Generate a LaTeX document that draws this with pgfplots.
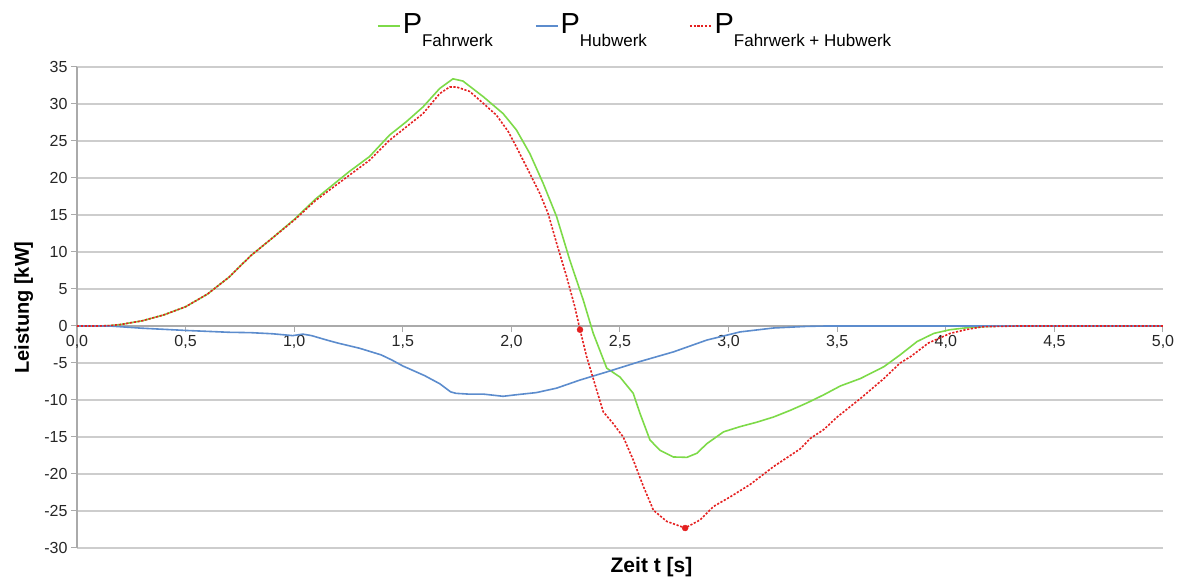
\documentclass[border=0pt]{standalone}
\usepackage{pgfplots}
\pgfplotsset{compat=1.18}
\usepackage{fontspec}
\setmainfont{Liberation Sans}
\definecolor{cgreen}{RGB}{125,218,72}
\definecolor{cblue}{RGB}{92,140,205}
\definecolor{cred}{RGB}{228,32,32}
\definecolor{gridgray}{RGB}{205,205,205}
\definecolor{axgray}{RGB}{170,170,170}
\begin{document}
\begin{tikzpicture}
\path[use as bounding box] (-77pt,-32pt) rectangle (1102pt,548pt);
\begin{axis}[
  at={(0,0)}, anchor=south west,
  scale only axis, width=1086pt, height=481pt,
  xmin=0, xmax=5, ymin=-30, ymax=35,
  axis x line=middle, axis y line=left,
  axis line style={-, draw=axgray, line width=1.2pt},
  hide obscured x ticks=false,
  xtick={0,0.5,...,5}, ytick={-30,-25,...,35},
  ymajorgrids, grid style={draw=gridgray, line width=1.1pt},
  tick style={draw=axgray, line width=1pt},
  tick align=outside, major tick length=6pt,
  /pgf/number format/assume math mode=true,
  tick label style={font=\fontsize{16}{18}\selectfont, text=black!85},
  xticklabel style={/pgf/number format/.cd, fixed, fixed zerofill, precision=1, use comma},
  yticklabel style={/pgf/number format/.cd, fixed, precision=0},
  xlabel={Zeit t [s]},
  ylabel={Leistung [kW]},
  xlabel style={at={(axis description cs:0.529,0)}, anchor=north, yshift=-6pt, font=\fontsize{21}{24}\selectfont\bfseries},
  ylabel style={at={(axis description cs:-0.049,0.5)}, anchor=center, rotate=0, font=\fontsize{20}{24}\selectfont\bfseries},
  legend columns=3,
  legend style={at={(axis description cs:0.514,1)}, anchor=south, yshift=28pt, draw=none, fill=none,
    /tikz/every even column/.append style={column sep=40pt},
    nodes={inner sep=2pt, anchor=base west}},
  legend image code/.code={\draw[#1] (0pt,7pt) -- (22pt,7pt);},
]
\addplot[cgreen, line width=1.6pt] coordinates {
(0,0) (0.1,0) (0.15,0.05) (0.2,0.2) (0.3,0.7) (0.4,1.5) (0.5,2.6) (0.6,4.3) (0.7,6.6) (0.8,9.5)
(0.9,11.9) (1.0,14.4) (1.1,17.2) (1.2,19.6) (1.255,20.9) (1.347,22.9) (1.439,25.8) (1.516,27.6)
(1.593,29.6) (1.67,32.1) (1.731,33.4) (1.777,33.1) (1.87,31.0) (1.962,28.7) (2.023,26.5)
(2.085,23.3) (2.146,19.3) (2.208,14.8) (2.269,8.9) (2.331,3.5) (2.377,-1.0) (2.439,-5.7)
(2.50,-6.9) (2.561,-9.1) (2.592,-11.8) (2.638,-15.4) (2.684,-16.8) (2.746,-17.7) (2.808,-17.75)
(2.854,-17.2) (2.90,-15.9) (2.977,-14.3) (3.053,-13.6) (3.13,-13.0) (3.207,-12.3) (3.284,-11.4)
(3.361,-10.4) (3.438,-9.3) (3.515,-8.1) (3.607,-7.1) (3.715,-5.5) (3.79,-3.9) (3.868,-2.1)
(3.945,-1.0) (4.02,-0.5) (4.10,-0.23) (4.17,-0.1) (4.25,0) (5.0,0)
};
\addlegendentry{\fontsize{29}{29}\selectfont P\raisebox{-13pt}{\fontsize{17}{17}\selectfont Fahrwerk}}
\addplot[cblue, line width=1.6pt] coordinates {
(0,0) (0.15,0) (0.3,-0.3) (0.5,-0.6) (0.7,-0.85) (0.8,-0.9) (0.9,-1.05) (0.993,-1.3) (1.04,-1.1)
(1.08,-1.3) (1.15,-1.9) (1.2,-2.3) (1.3,-3.0) (1.4,-3.9) (1.45,-4.6) (1.5,-5.4) (1.6,-6.7)
(1.67,-7.8) (1.72,-8.9) (1.745,-9.1) (1.8,-9.2) (1.87,-9.2) (1.962,-9.5) (2.02,-9.3) (2.115,-9.0)
(2.208,-8.4) (2.316,-7.3) (2.44,-6.2) (2.592,-4.8) (2.746,-3.5) (2.90,-1.9) (3.053,-0.8)
(3.207,-0.27) (3.36,-0.05) (3.45,0) (5.0,0)
};
\addlegendentry{\fontsize{29}{29}\selectfont P\raisebox{-13pt}{\fontsize{17}{17}\selectfont Hubwerk}}
\addplot[draw=cred, line width=1.6pt, dash pattern=on 2.2pt off 1.6pt,
  legend image code/.code={\draw[draw=cred, line width=1.6pt, dash pattern=on 2.2pt off 1.6pt] (0pt,7pt) -- (22pt,7pt);}] coordinates {
(0,0) (0.1,0) (0.15,0.05) (0.2,0.2) (0.3,0.7) (0.4,1.5) (0.5,2.6) (0.6,4.3) (0.7,6.6) (0.8,9.5)
(0.9,11.9) (1.0,14.3) (1.1,17.0) (1.255,20.4) (1.347,22.4) (1.439,25.1) (1.516,26.9) (1.593,28.7)
(1.67,31.4) (1.716,32.3) (1.747,32.3) (1.808,31.7) (1.87,30.1) (1.931,28.5) (1.985,26.3)
(2.023,24.2) (2.085,20.6) (2.131,17.9) (2.169,15.2) (2.208,11.2) (2.254,6.7) (2.292,2.6)
(2.316,-0.5) (2.346,-4.1) (2.392,-8.6) (2.423,-11.6) (2.469,-13.2) (2.515,-15.0) (2.561,-18.1)
(2.608,-21.7) (2.654,-24.9) (2.715,-26.4) (2.80,-27.3) (2.869,-26.2) (2.93,-24.4) (3.007,-23.1)
(3.10,-21.4) (3.207,-19.0) (3.253,-18.1) (3.33,-16.6) (3.376,-15.2) (3.438,-14.0) (3.50,-12.3)
(3.607,-9.8) (3.715,-7.1) (3.79,-5.0) (3.84,-4.1) (3.92,-2.3) (4.02,-1.0) (4.10,-0.45)
(4.17,-0.1) (4.33,0) (5.0,0)
};
\addlegendentry{\fontsize{29}{29}\selectfont P\raisebox{-13pt}{\fontsize{17}{17}\selectfont Fahrwerk + Hubwerk}}
\addplot[only marks, mark=*, mark size=3pt, cred, forget plot] coordinates {(2.316,-0.5) (2.80,-27.3)};
\end{axis}
\end{tikzpicture}
\end{document}
